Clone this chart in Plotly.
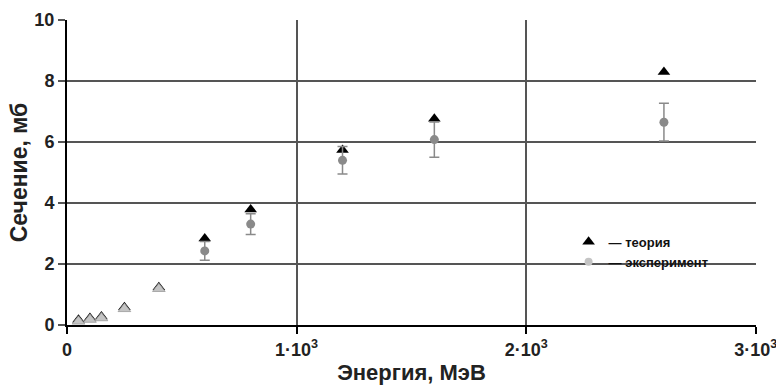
import plotly.graph_objects as go

energy = [50, 100, 150, 250, 400, 600, 800, 1200, 1600, 2600]
theory = [0.17, 0.23, 0.28, 0.58, 1.24, 2.84, 3.79, 5.74, 6.76, 8.30]

exp_low_energy = [50, 100, 150, 250, 400]
exp_low = [0.12, 0.18, 0.23, 0.53, 1.19]

exp_energy = [600, 800, 1200, 1600, 2600]
exp_values = [2.43, 3.31, 5.40, 6.08, 6.65]
exp_errors = [0.31, 0.34, 0.45, 0.58, 0.62]

x_tickvals = [0, 1000, 2000, 3000]
x_ticktext = ["0", "1·10<sup>3</sup>", "2·10<sup>3</sup>", "3·10<sup>3</sup>"]
y_tickvals = [0, 2, 4, 6, 8, 10]

font_main = "Liberation Sans, Arial, sans-serif"

fig = go.Figure()

fig.add_trace(go.Scatter(
    x=energy, y=theory, mode="markers", name="<b>— теория</b>",
    marker=dict(symbol="triangle-up", size=11, color="black"),
    showlegend=True,
))
fig.add_trace(go.Scatter(
    x=exp_low_energy, y=exp_low, mode="markers", showlegend=False,
    marker=dict(symbol="triangle-up", size=11, color="#c4c4c4",
                line=dict(color="#999999", width=0.8)),
))
fig.add_trace(go.Scatter(
    x=exp_energy, y=exp_values, mode="markers", showlegend=False,
    marker=dict(symbol="circle", size=9, color="#8a8a8a"),
    error_y=dict(type="data", array=exp_errors, color="#8a8a8a",
                 thickness=1.5, width=5),
))
fig.add_trace(go.Scatter(
    x=[None], y=[None], mode="markers", name="<b>— эксперимент</b>",
    marker=dict(symbol="circle", size=8, color="#c4c4c4"),
    showlegend=True,
))

fig.update_layout(
    width=776, height=389,
    margin=dict(l=67, r=20, t=20, b=64),
    paper_bgcolor="white", plot_bgcolor="white",
    font=dict(family=font_main, color="#222222"),
    legend=dict(x=0.728, y=0.240, xanchor="left", yanchor="middle",
                bgcolor="rgba(0,0,0,0)",
                font=dict(family=font_main, size=13, color="#111111"),
                itemwidth=30, tracegroupgap=0),
)

fig.update_xaxes(
    range=[0, 3001], tickvals=x_tickvals, ticktext=x_ticktext,
    ticklabeloverflow="allow", automargin=False,
    showgrid=True, gridcolor="#555555", gridwidth=1.5,
    showline=True, linecolor="black", linewidth=2, mirror=False,
    ticks="outside", ticklen=7, tickcolor="black", tickwidth=1.5,
    tickfont=dict(size=18, family=font_main, weight="bold", color="#222222"),
    title=dict(text="Энергия, МэВ", font=dict(size=22, family=font_main, weight="bold", color="#222222"),
               standoff=6),
    zeroline=False,
)
fig.update_yaxes(
    range=[0, 10.001], tickvals=y_tickvals, automargin=False,
    showgrid=True, gridcolor="#555555", gridwidth=1.5,
    showline=True, linecolor="black", linewidth=2,
    ticks="outside", ticklen=7, tickcolor="#555555", tickwidth=1.5,
    tickfont=dict(size=18, family=font_main, weight="bold", color="#222222"),
    title=dict(text="Сечение, мб", font=dict(size=23, family=font_main, weight="bold", color="#222222"),
               standoff=0),
    zeroline=False,
)

fig.write_html("out.html")
